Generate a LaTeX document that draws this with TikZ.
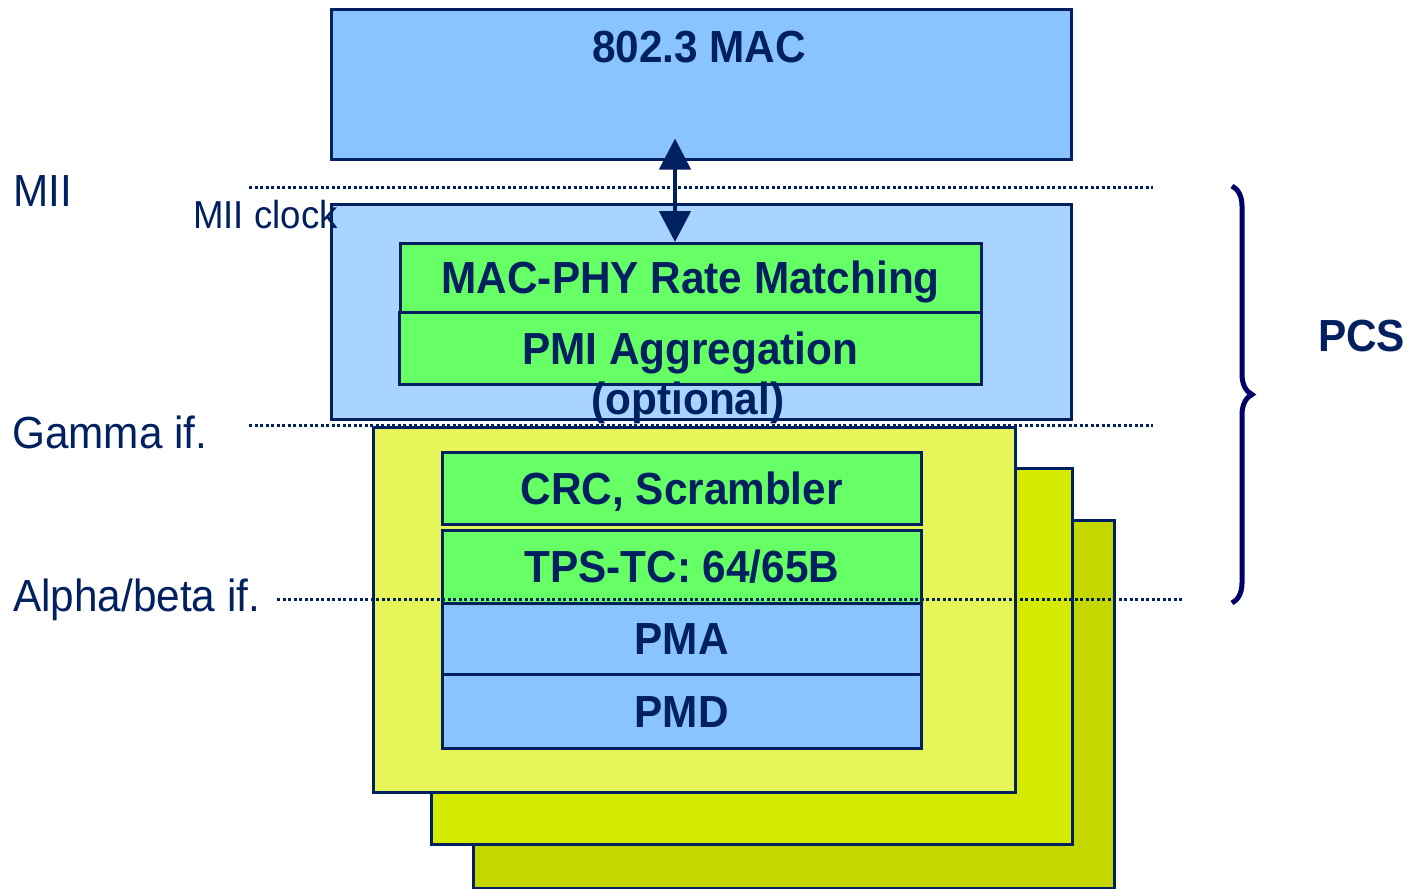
\documentclass[tikz,border=0pt]{standalone}
\usepackage{fontspec}
\setmainfont[FakeStretch=0.94]{Liberation Sans}
\usetikzlibrary{arrows.meta}
\usetikzlibrary{decorations.pathreplacing}
\definecolor{navy}{RGB}{0,32,96}
\definecolor{bracecol}{RGB}{0,0,102}
\definecolor{macblue}{RGB}{137,196,255}
\definecolor{pcsblue}{RGB}{168,212,255}
\definecolor{layergreen}{RGB}{102,255,102}
\definecolor{yellow1}{RGB}{230,245,90}
\definecolor{yellow2}{RGB}{212,234,0}
\definecolor{yellow3}{RGB}{196,216,0}

\begin{document}
\begin{tikzpicture}[x=1pt,y=-1pt,
  box/.style={draw=navy,line width=2.5pt,inner sep=0pt,anchor=north west},
  layer/.style={box,text=navy,font=\fontsize{45}{54}\selectfont\bfseries,text height=32pt,text depth=0pt},
  iflabel/.style={anchor=west,text=navy,font=\fontsize{45}{54}\selectfont,inner sep=0pt,text height=32pt,text depth=0pt},
  ifline/.style={navy,line width=3pt,dash pattern=on 3pt off 2.5pt},
  biarrow/.style={navy,line width=4.5pt,{Triangle[width=31pt,length=31pt]}-{Triangle[width=31pt,length=31pt]}}]
  \useasboundingbox (0,0) rectangle (1414,889);
  %MAC on top
  \node[box,fill=macblue,minimum width=740pt,minimum height=150pt] (mac) at (330,8) {};
  \node[anchor=base,inner sep=0pt,text=navy,font=\fontsize{45}{54}\selectfont\bfseries] (mactxt) at (699,62) {802.3 MAC};
  %PCS part
  \node[box,fill=pcsblue,minimum width=740pt,minimum height=215pt] (pcs) at (330,203) {};
  \node[layer,fill=layergreen,minimum width=581pt,minimum height=69pt] (mph) at (399,242) {MAC-PHY Rate Matching};
  \node[layer,fill=layergreen,minimum width=582pt,minimum height=72pt] (pmi) at (398,311) {PMI Aggregation};
  \node[anchor=base,inner sep=0pt,text=navy,font=\fontsize{45}{54}\selectfont\bfseries] (opt) at (688,414) {(optional)};
  %stacked pairs
  \node[box,fill=yellow3,minimum width=641pt,minimum height=368pt] (pair3) at (472,519) {};
  \node[box,fill=yellow2,minimum width=641pt,minimum height=376pt] (pair2) at (430,467) {};
  \node[box,fill=yellow1,minimum width=642pt,minimum height=365pt] (pair1) at (372,426) {};
  \node[layer,fill=layergreen,minimum width=479pt,minimum height=72pt] (crc) at (441,451) {CRC, Scrambler};
  \node[layer,fill=layergreen,minimum width=479pt,minimum height=73pt] (tps) at (441,529) {TPS-TC: 64/65B};
  \node[layer,fill=macblue,minimum width=479pt,minimum height=71pt] (pma) at (441,602) {PMA};
  \node[layer,fill=macblue,minimum width=479pt,minimum height=74pt] (pmd) at (441,673) {PMD};
  %interfaces
  \draw[ifline] (249,187)--(1153,187);
  \draw[ifline] (249,425)--(1153,425);
  \draw[ifline] (277,599)--(1182,599);
  \node[iflabel] (mii) at (13,190) {MII};
  \node[iflabel,font=\fontsize{39}{47}\selectfont,text height=28pt] (miiclk) at (193,214) {MII clock};
  \node[iflabel] (gamma) at (12,432) {Gamma if.};
  \node[iflabel] (alpha) at (13,595) {Alpha/beta if.};
  %MII arrow
  \coordinate (clk) at (675,0);
  \draw[biarrow] ([yshift=22pt]mac.south -| clk) -- (mph.north -| clk);
  %brace
  \draw[bracecol,line width=5pt,decorate,decoration={brace,amplitude=20pt}] (1232,186) -- (1232,603);
  \node[iflabel,font=\fontsize{45}{54}\selectfont\bfseries] (pcslbl) at (1318,335) {PCS};
\end{tikzpicture}
\end{document}
